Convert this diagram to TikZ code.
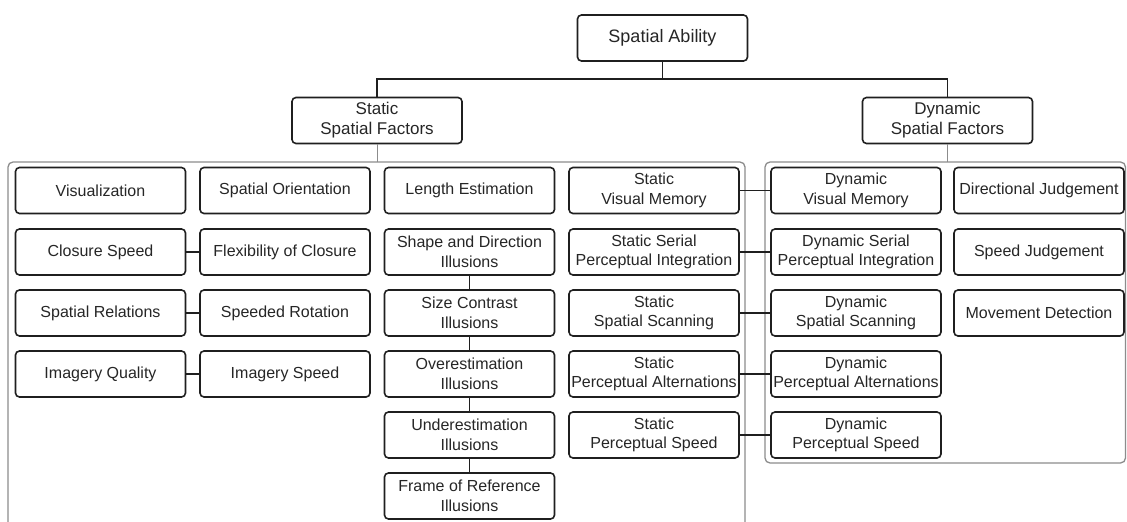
\documentclass[tikz,border=0pt]{standalone}
\usepackage{fontspec}
\setmainfont{Liberation Sans}
\begin{document}
\begin{tikzpicture}[x=1pt,y=-1pt,
  box/.style={draw=black!88, line width=1.6pt, rounded corners=4pt,
    minimum width=170pt, minimum height=46pt, inner sep=0pt, align=center,
    text=black!85, font=\fontsize{16}{19.5}\selectfont},
  topbox/.style={box, font=\fontsize{17}{20}\selectfont},
  link/.style={draw=black!88, line width=1.6pt},
  drop/.style={draw=black!45, line width=1pt},
  group/.style={draw=black!45, line width=1.3pt, rounded corners=5pt}]
  % page
  \useasboundingbox[fill=white] (0,0) rectangle (1127,522);

  % group frames
  \draw[group] (8,522) -- (8,162) -- (745,162) -- (745,522);
  \draw[group] (765,162) rectangle (1125.5,463);

  % top levels
  \node[topbox, font=\fontsize{18}{21}\selectfont] (sa) at (662.5,38) {Spatial Ability};
  \node[topbox] (ssf) at (377,120.5) {Static\\Spatial Factors};
  \node[topbox] (dsf) at (947.5,120.5) {Dynamic\\Spatial Factors};
  \coordinate (bar) at (0,79);
  \coordinate (frametop) at (0,162);

  % static factors, columns 1-4
  \node[box] (vis)  at (100.5,190.5) {Visualization};
  \node[box] (cls)  at (100.5,252)   {Closure Speed};
  \node[box] (srel) at (100.5,313)   {Spatial Relations};
  \node[box] (iq)   at (100.5,374)   {Imagery Quality};

  \node[box] (sor)  at (285,190.5) {Spatial Orientation};
  \node[box] (flx)  at (285,252)   {Flexibility of Closure};
  \node[box] (srot) at (285,313)   {Speeded Rotation};
  \node[box] (isp)  at (285,374)   {Imagery Speed};

  \node[box] (len)  at (469.5,190.5) {Length Estimation};
  \node[box] (shp)  at (469.5,252)   {Shape and Direction\\Illusions};
  \node[box] (siz)  at (469.5,313)   {Size Contrast\\Illusions};
  \node[box] (ovr)  at (469.5,374)   {Overestimation\\Illusions};
  \node[box] (und)  at (469.5,435)   {Underestimation\\Illusions};
  \node[box] (frm)  at (469.5,496)   {Frame of Reference\\Illusions};

  \node[box] (svm)  at (654,190.5) {Static\\Visual Memory};
  \node[box] (sspi) at (654,252)   {Static Serial\\Perceptual Integration};
  \node[box] (sss)  at (654,313)   {Static\\Spatial Scanning};
  \node[box] (spa)  at (654,374)   {Static\\Perceptual Alternations};
  \node[box] (sps)  at (654,435)   {Static\\Perceptual Speed};

  % dynamic factors
  \node[box] (dvm)  at (856,190.5) {Dynamic\\Visual Memory};
  \node[box] (dspi) at (856,252)   {Dynamic Serial\\Perceptual Integration};
  \node[box] (dss)  at (856,313)   {Dynamic\\Spatial Scanning};
  \node[box] (dpa)  at (856,374)   {Dynamic\\Perceptual Alternations};
  \node[box] (dps)  at (856,435)   {Dynamic\\Perceptual Speed};

  \node[box] (dj)   at (1039,190.5) {Directional Judgement};
  \node[box] (sj)   at (1039,252)   {Speed Judgement};
  \node[box] (md)   at (1039,313)   {Movement Detection};

  % hierarchy
  \draw[link] (sa.south) -- (sa.south |- bar);
  \draw[link] (ssf.north) -- (ssf.north |- bar) -- (dsf.north |- bar) -- (dsf.north);
  \draw[drop] (ssf.south) -- (ssf.south |- frametop);
  \draw[drop] (dsf.south) -- (dsf.south |- frametop);

  % pairings
  \draw[link] (cls) -- (flx);
  \draw[link] (srel) -- (srot);
  \draw[link] (iq) -- (isp);
  \draw[link] (shp) -- (siz);
  \draw[link] (siz) -- (ovr);
  \draw[link] (ovr) -- (und);
  \draw[link] (und) -- (frm);
  \draw[link] (svm) -- (dvm);
  \draw[link] (sspi) -- (dspi);
  \draw[link] (sss) -- (dss);
  \draw[link] (spa) -- (dpa);
  \draw[link] (sps) -- (dps);
\end{tikzpicture}
\end{document}
